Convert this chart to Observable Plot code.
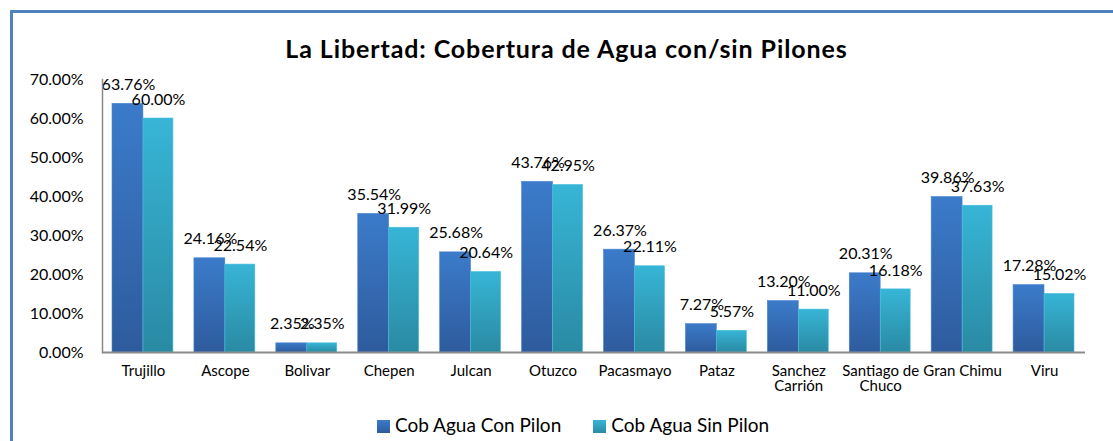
<!DOCTYPE html>
<html><head><meta charset="utf-8">
<script src="https://cdn.jsdelivr.net/npm/d3@7"></script>
<script src="https://cdn.jsdelivr.net/npm/@observablehq/plot@0.6"></script>
<style>
body{margin:0;background:#fff;font-family:Lato,"Open Sans",sans-serif;}
#wrap{position:relative;width:1113px;height:441px;overflow:hidden;}
#frame{position:absolute;left:10px;top:10px;width:1200px;height:500px;border-left:3px solid #4F81BD;border-top:3px solid #4F81BD;box-sizing:border-box;}
#title{position:absolute;top:33px;left:0;width:1133px;text-align:center;font-weight:bold;font-size:25px;letter-spacing:0.9px;color:#000;}
#chart{position:absolute;left:0;top:60px;}
#legend{position:absolute;top:413px;left:0;width:1146px;text-align:center;font-size:19px;color:#000;}
#legend span.sw{display:inline-block;width:13px;height:13px;margin-right:5px;vertical-align:-1px;}
#legend span.item{margin:0 16px;}
#chart rect.bar{filter:drop-shadow(2px 1px 1.5px rgba(0,0,0,0.22));}
</style></head>
<body>
<div id="wrap">
<div id="frame"></div>
<div id="title">La Libertad: Cobertura de Agua con/sin Pilones</div>
<div id="chart"></div>
<div id="legend"></div>
</div>
<script>
const provincias = ["Trujillo","Ascope","Bolivar","Chepen","Julcan","Otuzco","Pacasmayo","Pataz","Sanchez Carrión","Santiago de Chuco","Gran Chimu","Viru"];
const tickLabels = ["Trujillo","Ascope","Bolivar","Chepen","Julcan","Otuzco","Pacasmayo","Pataz","Sanchez\nCarrión","Santiago de\nChuco","Gran Chimu","Viru"];
const conPilon = [63.76,24.16,2.35,35.54,25.68,43.76,26.37,7.27,13.20,20.31,39.86,17.28];
const sinPilon = [60.00,22.54,2.35,31.99,20.64,42.95,22.11,5.57,11.00,16.18,37.63,15.02];
const seriesNames = ["Cob Agua Con Pilon","Cob Agua Sin Pilon"];
const yTicks = [0,10,20,30,40,50,60,70];

const dataCon = provincias.map((p,i)=>({p, v: conPilon[i]}));
const dataSin = provincias.map((p,i)=>({p, v: sinPilon[i]}));
const fmt = v => v.toFixed(2) + "%";
const labelMap = new Map(provincias.map((p,i)=>[p, tickLabels[i]]));

const chart = Plot.plot({
  width: 1113,
  height: 345,
  marginTop: 19,
  marginBottom: 53,
  marginLeft: 102,
  marginRight: 28,
  style: {fontFamily: "Lato, 'Open Sans', sans-serif", background: "transparent", color: "#000"},
  x: {domain: provincias, padding: 0, round: false, label: null},
  y: {domain: [0, 70], label: null},
  marks: [
    Plot.barY(dataCon, {x: "p", y: "v", fill: "url(#gCon)", insetLeft: 10, insetRight: 41, stroke: "#4a86d0", strokeWidth: 0.6, className: "bar"}),
    Plot.barY(dataSin, {x: "p", y: "v", fill: "url(#gSin)", insetLeft: 41, insetRight: 11, stroke: "#45bfdc", strokeWidth: 0.6, className: "bar"}),
    Plot.text(dataCon, {x: "p", y: "v", text: d => fmt(d.v), dx: -15, dy: -19, fontSize: 16, fill: "#000"}),
    Plot.text(dataSin, {x: "p", y: "v", text: d => fmt(d.v), dx: 15, dy: -19, fontSize: 16, fill: "#000"}),
    Plot.axisY({ticks: yTicks, tickFormat: fmt, tickSize: 0, tickPadding: 19, fontSize: 16, label: null}),
    Plot.axisX({tickSize: 0, tickPadding: 13, fontSize: 15, tickFormat: d => labelMap.get(d), label: null}),
    Plot.frame({anchor: "left", stroke: "#8a8a8a", strokeWidth: 1.5}),
    Plot.ruleY([0], {stroke: "#8a8a8a", strokeWidth: 2})
  ]
});
// gradients
const defs = d3.select(chart).insert("defs", ":first-child");
function grad(id, top, bottom){
  const g = defs.append("linearGradient").attr("id", id).attr("x1",0).attr("y1",0).attr("x2",0).attr("y2",1);
  g.append("stop").attr("offset","0%").attr("stop-color", top);
  g.append("stop").attr("offset","100%").attr("stop-color", bottom);
}
grad("gCon", "#3B7BCA", "#2E5B9D");
grad("gSin", "#37B5D6", "#2A8AA3");
document.getElementById("chart").appendChild(chart);

document.getElementById("legend").innerHTML = seriesNames.map((s,i)=>
  `<span class="item"><span class="sw" style="background:linear-gradient(${i?'#37B5D6,#2A8AA3':'#3B7BCA,#2E5B9D'})"></span>${s}</span>`).join("");
</script>
</body></html>
